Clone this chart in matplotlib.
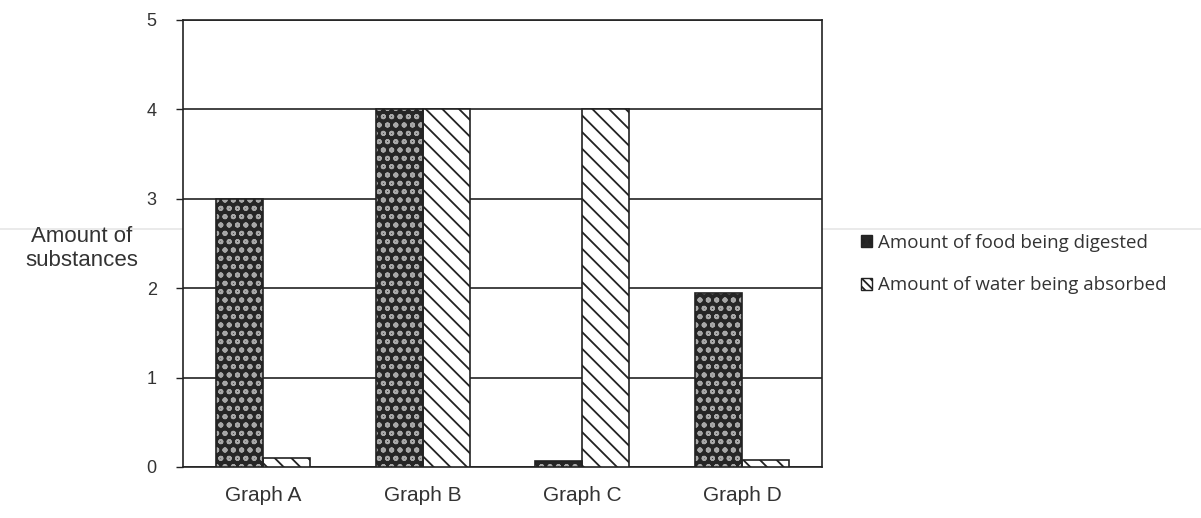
import matplotlib
matplotlib.use("Agg")
import matplotlib.pyplot as plt
import numpy as np
from matplotlib.patches import Patch
from matplotlib.lines import Line2D

categories = ["Graph A", "Graph B", "Graph C", "Graph D"]
food = [3.0, 4.0, 0.07, 1.95]
water = [0.1, 4.0, 4.0, 0.08]
yticks = [0, 1, 2, 3, 4, 5]
series_labels = ["Amount of food being digested", "Amount of water being absorbed"]

plt.rcParams['font.family'] = ['Liberation Sans', 'DejaVu Sans']
plt.rcParams['hatch.linewidth'] = 1.3
fig = plt.figure(figsize=(12.01, 5.18), dpi=100)
ax = fig.add_axes([0.1524, 0.0985, 0.532, 0.8629])

x = np.arange(len(categories))
w = 0.295

# food bars: dark stippled texture
ax.bar(x - w/2, food, w, color="#262626", edgecolor="#a8a8a8", hatch="oo", linewidth=0, zorder=3)
ax.bar(x - w/2, food, w, fill=False, edgecolor="#222222", linewidth=1.2, zorder=4)
# water bars: diagonal hatch
ax.bar(x + w/2, water, w, color="white", edgecolor="#222222", hatch="\\\\", linewidth=1.2, zorder=3)

ax.set_xlim(-0.5, len(categories) - 0.5)
ax.set_ylim(0, 5)
ax.set_yticks(yticks)
ax.set_yticklabels([str(t) for t in yticks])
ax.set_xticks(x)
ax.set_xticklabels(categories)
ax.tick_params(axis='x', length=0, pad=14, labelsize=15, colors="#333333")
ax.tick_params(axis='y', length=5, width=1, pad=14, labelsize=13, colors="#333333", color="#222222")
ax.yaxis.grid(True, color="#222222", linewidth=1.2, zorder=1)
ax.set_axisbelow(True)
for s in ax.spines.values():
    s.set_color("#222222")
    s.set_linewidth(1.2)

fig.text(0.068, 0.52, "Amount of\nsubstances", ha="center", va="center",
         fontsize=16, color="#333333", linespacing=1.15)

# faint scan line across the page
fig.add_artist(Line2D([0, 1], [0.558, 0.558], color="#e6e6e6", linewidth=1.2, zorder=0))

handles = [
    Patch(facecolor="#262626", edgecolor="#222222", hatch="oo"),
    Patch(facecolor="white", edgecolor="#222222", hatch="\\\\\\\\"),
]
leg = fig.legend(handles, series_labels, loc="center left", bbox_to_anchor=(0.703, 0.49),
                 frameon=False, handlelength=0.6, handleheight=0.6, handletextpad=0.3,
                 labelspacing=1.3, prop={"family": "Open Sans", "size": 13.5})
for t in leg.get_texts():
    t.set_color("#333333")

fig.savefig("out.png", dpi=100, facecolor="white")
